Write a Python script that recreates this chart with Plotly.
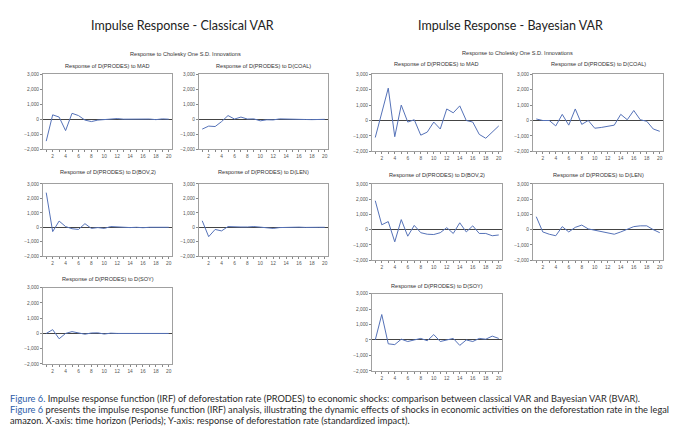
import plotly.graph_objects as go

# the page body keeps its 8px margin, so the figure is 8px smaller than the window
OFF = 8
W, H = 680 - OFF, 444 - OFF

periods = list(range(1, 21))

shocks = ['MAD', 'D(COAL)', 'D(BOV,2)', 'D(LEN)', 'D(SOY)']

# classical VAR responses of D(PRODES)
var_mad = [-1450, 300, 150, -750, 400, 250, -50, -150, -50, -30, 30, 50, 10, 20, 0, -10, 20, -20, 30, 10]
var_coal = [-650, -450, -480, -150, 250, 20, 150, 20, 30, -100, -30, -40, 30, 30, 40, 0, -10, -20, 0, 0]
var_bov = [2400, -300, 430, 50, -100, -150, 250, -80, -20, -80, 50, 20, 40, -20, 0, -30, 0, 0, 20, 0]
var_len = [450, -650, -150, -250, 50, 60, 20, 20, 50, 10, -50, -80, -20, 0, 30, 10, -10, -30, 0, 0]
var_soy = [0, 250, -350, 0, 120, 30, -50, 30, 40, -40, 20, 0, 0, 10, 0, 10, 0, 0, 0, 0]

# bayesian VAR responses of D(PRODES)
bvar_mad = [-1100, 600, 2100, -1050, 1000, -100, 50, -950, -750, -100, -550, 750, 500, 950, 0, -100, -900, -1150, -750, -350]
bvar_coal = [100, 0, 0, -350, 400, -300, 750, -250, 0, -500, -450, -350, -300, 400, 50, 650, 50, -50, -550, -700]
bvar_bov = [1900, 320, 530, -800, 660, -430, 280, -200, -300, -320, -200, 130, -250, 450, -150, 250, -250, -250, -400, -350]
bvar_len = [850, -150, -300, -400, 200, -150, 150, 300, 50, -50, -150, -250, -300, -150, 50, 200, 250, 250, 0, -200]
bvar_soy = [0, 1650, -250, -300, 50, -100, 0, 100, -50, 350, -100, 0, 100, -350, 0, -100, 100, 50, 250, 100]

y_ticks = [-2000, -1000, 0, 1000, 2000, 3000]

caption_lines = [
    ('<span style="color:#2b5ca8">Figure 6.</span> Impulse response function (IRF) of deforestation rate (PRODES) '
     'to economic shocks: comparison between classical VAR and Bayesian VAR (BVAR).'),
    ('<span style="color:#2b5ca8">Figure 6</span> presents the impulse response function (IRF) analysis, illustrating '
     'the dynamic effects of shocks in economic activities on the deforestation rate in the legal'),
    'amazon. X-axis: time horizon (Periods); Y-axis: response of deforestation rate (standardized impact).',
]

# pixel boxes in the window (left, right, top, bottom) + title row for each small panel
panels = [
    (var_mad, (43, 172, 73, 149), 65),
    (var_coal, (199, 328, 73, 149), 65),
    (var_bov, (43, 172, 184, 257), 172),
    (var_len, (199, 328, 184, 257), 172),
    (var_soy, (43, 172, 289, 366), 280),
    (bvar_mad, (372, 502, 73, 151), 63),
    (bvar_coal, (533, 663, 73, 151), 63),
    (bvar_bov, (372, 502, 184, 261), 175),
    (bvar_len, (533, 663, 184, 261), 175),
    (bvar_soy, (372, 502, 295, 373), 287),
]


def px_x(v):
    return (v - OFF) / W


def px_y(v):
    return 1 - (v - OFF) / H


fig = go.Figure()
annotations = []
tick_font = dict(family='Liberation Sans, Arial', size=4.8, color='#555')
label_font = dict(family='Liberation Sans, Arial', size=5.6, color='#333')

for i, (vals, (l, r, t, b), ty) in enumerate(panels):
    n = i + 1
    sfx = '' if n == 1 else str(n)
    fig.add_trace(go.Scatter(x=periods, y=vals, mode='lines',
                             line=dict(color='#5572b8', width=1),
                             xaxis='x' + sfx, yaxis='y' + sfx, showlegend=False,
                             hoverinfo='skip'))
    fig.update_layout(**{
        'xaxis' + sfx: dict(domain=[px_x(l), px_x(r)], anchor='y' + sfx,
                            range=[0.5, 20.5], tick0=2, dtick=2,
                            ticks='outside', ticklen=2, tickcolor='#888',
                            minor=dict(dtick=1, ticks='outside', ticklen=2, tickcolor='#888'),
                            showgrid=False, zeroline=False, showline=True, mirror=True,
                            linecolor='#a0a0a0', linewidth=1, tickfont=tick_font),
        'yaxis' + sfx: dict(domain=[px_y(b), px_y(t)], anchor='x' + sfx,
                            range=[-2000, 3000], tickvals=y_ticks, tickformat=',',
                            ticks='outside', ticklen=2, tickcolor='#888',
                            showgrid=False, zeroline=True, zerolinecolor='#444',
                            zerolinewidth=1.2, showline=True, mirror=True,
                            linecolor='#a0a0a0', linewidth=1, tickfont=tick_font),
    })
    shock = shocks[i % 5]
    annotations.append(dict(x=px_x((l + r) / 2), y=px_y(ty), xref='paper', yref='paper',
                            text='Response of D(PRODES) to ' + shock, showarrow=False,
                            font=label_font, xanchor='center', yanchor='middle'))

# panel headings
for text, x in [('Impulse Response - Classical VAR', 182), ('Impulse Response - Bayesian VAR', 510)]:
    annotations.append(dict(x=px_x(x), y=px_y(24), xref='paper', yref='paper', text=text,
                            showarrow=False, xanchor='center', yanchor='middle',
                            font=dict(family='Lato, sans-serif', size=12.5, color='#222')))
for x, y in [(185, 53), (517, 52)]:
    annotations.append(dict(x=px_x(x), y=px_y(y), xref='paper', yref='paper',
                            text='Response to Cholesky One S.D. Innovations', showarrow=False,
                            xanchor='center', yanchor='middle', font=label_font))

# caption
for k, line in enumerate(caption_lines):
    annotations.append(dict(x=px_x(8), y=px_y(401 + 11 * k), xref='paper', yref='paper',
                            text=line, showarrow=False, xanchor='left', yanchor='middle',
                            font=dict(family='Lato', size=9.25, color='#2a2a2a')))

fig.update_layout(width=W, height=H, margin=dict(l=0, r=0, t=0, b=0),
                  paper_bgcolor='white', plot_bgcolor='white',
                  annotations=annotations)

fig.write_html("out.html")
